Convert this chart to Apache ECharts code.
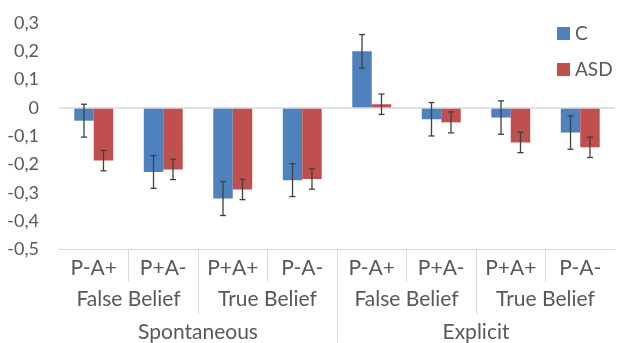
<!DOCTYPE html>
<html><head><meta charset="utf-8">
<script src="https://cdn.jsdelivr.net/npm/echarts@6/dist/echarts.min.js"></script>
<style>html,body{margin:0;padding:0;background:#fff}#c{width:617px;height:343px}</style>
</head><body><div id="c"></div>
<script>
const conditions = ['P-A+', 'P+A-', 'P+A+', 'P-A-', 'P-A+', 'P+A-', 'P+A+', 'P-A-'];
const beliefs = ['False Belief', 'True Belief', 'False Belief', 'True Belief'];
const tasks = ['Spontaneous', 'Explicit'];
const seriesNames = ['C', 'ASD'];
const cValues = [-0.045, -0.226, -0.32, -0.255, 0.2, -0.04, -0.034, -0.087];
const cErrors = [0.058, 0.058, 0.06, 0.058, 0.059, 0.059, 0.059, 0.059];
const asdValues = [-0.186, -0.217, -0.288, -0.251, 0.013, -0.051, -0.122, -0.139];
const asdErrors = [0.036, 0.036, 0.036, 0.036, 0.036, 0.037, 0.036, 0.036];
const yTicks = [-0.5, 0.3, 0.1];

const FONT = 'Lato';
const TXT = '#595959';
const GRIDC = '#d9d9d9';
const BARW = 0.28;
const XFS = 21;

const chart = echarts.init(document.getElementById('c'), null, {renderer: 'canvas'});

function errSeries(name, values, errors, side) {
  return {
    type: 'custom', name: name + ' err', xAxisIndex: 0, yAxisIndex: 0, z: 5,
    data: values.map((v, i) => [i, v, errors[i]]),
    renderItem: function (params, api) {
      const i = api.value(0), v = api.value(1), e = api.value(2);
      const band = api.size([1, 0])[0];
      const c = api.coord([i, v]);
      const x = c[0] + side * band * BARW / 2;
      const yt = api.coord([i, v + e])[1];
      const yb = api.coord([i, v - e])[1];
      const h = 3;
      const st = {stroke: '#404040', lineWidth: 1.3};
      return {type: 'group', children: [
        {type: 'line', shape: {x1: x, y1: yt, x2: x, y2: yb}, style: st},
        {type: 'line', shape: {x1: x - h, y1: yt, x2: x + h, y2: yt}, style: st},
        {type: 'line', shape: {x1: x - h, y1: yb, x2: x + h, y2: yb}, style: st}
      ]};
    }
  };
}

function sepAxis(vals, len) {
  return {
    type: 'value', min: 0, max: conditions.length, position: 'bottom', gridIndex: 0,
    axisLine: {show: false, onZero: false}, splitLine: {show: false},
    axisLabel: {show: false},
    axisTick: {show: true, inside: false, length: len, customValues: vals, lineStyle: {color: GRIDC, width: 1}}
  };
}

const option = {
  animation: false,
  textStyle: {fontFamily: FONT},
  grid: {left: 59, right: 2, top: 23, bottom: 93, containLabel: false},
  legend: {
    orient: 'vertical', left: 557, top: 24, padding: 0, itemWidth: 13, itemHeight: 13, itemGap: 17,
    icon: 'rect', data: seriesNames,
    textStyle: {fontFamily: FONT, fontSize: 19, color: TXT}
  },
  xAxis: [
    {type: 'category', data: conditions, position: 'bottom',
     axisLine: {show: true, onZero: false, lineStyle: {color: GRIDC, width: 1}},
     axisTick: {show: false},
     axisLabel: {interval: 0, margin: 9, fontSize: XFS, color: TXT, fontFamily: FONT, lineHeight: 20}},
    {type: 'category', data: beliefs, position: 'bottom',
     axisLine: {show: false, onZero: false}, axisTick: {show: false},
     axisLabel: {interval: 0, margin: 40, fontSize: XFS, color: TXT, fontFamily: FONT, lineHeight: 20}},
    {type: 'category', data: tasks, position: 'bottom',
     axisLine: {show: false, onZero: false}, axisTick: {show: false},
     axisLabel: {interval: 0, margin: 73, fontSize: XFS, color: TXT, fontFamily: FONT, lineHeight: 20}},
    sepAxis([1, 2, 3, 4, 5, 6, 7], 32),
    sepAxis([2, 6], 65),
    sepAxis([4], 93)
  ],
  yAxis: {
    type: 'value', min: yTicks[0], max: yTicks[1], interval: yTicks[2],
    axisLine: {show: false}, axisTick: {show: false}, splitLine: {show: false},
    axisLabel: {margin: 20, fontSize: 18, color: TXT, fontFamily: FONT,
      formatter: v => String(Math.round(v * 10) / 10).replace('.', ',')}
  },
  series: [
    {type: 'bar', name: seriesNames[0], data: cValues, barWidth: (BARW * 100) + '%', barGap: '0%',
     itemStyle: {color: '#4f81bd'},
     markLine: {silent: true, symbol: 'none', label: {show: false},
       lineStyle: {color: GRIDC, width: 1.5, type: 'solid'}, data: [{yAxis: 0}]}},
    {type: 'bar', name: seriesNames[1], data: asdValues, barWidth: (BARW * 100) + '%', barGap: '0%',
     itemStyle: {color: '#c0504d'}},
    errSeries('C', cValues, cErrors, -1),
    errSeries('ASD', asdValues, asdErrors, 1)
  ]
};
chart.setOption(option);
</script></body></html>
